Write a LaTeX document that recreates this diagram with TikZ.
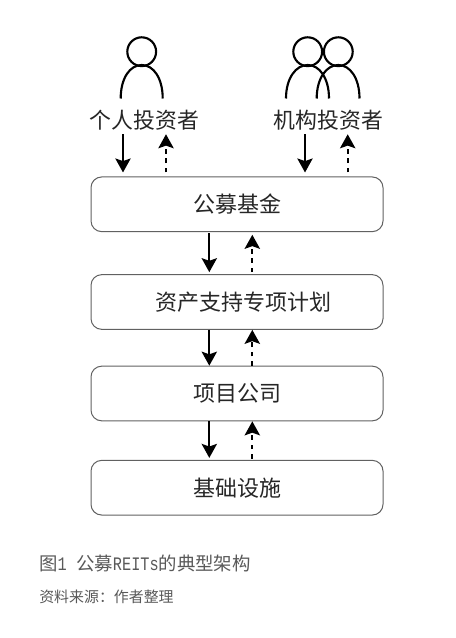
\documentclass[tikz,border=0pt]{standalone}
\usepackage{fontspec}
\setmainfont{Noto Sans CJK SC}
\newfontfamily\capmono[FakeStretch=0.8]{Liberation Mono}
\usetikzlibrary{arrows.meta}
\tikzset{
  x=0.75pt,y=-0.75pt,
  boxnode/.style={draw=black!62,line width=0.75pt,rounded corners=8pt,minimum width=219pt,minimum height=41pt,inner sep=0pt,font=\fontsize{16.5pt}{18pt}\selectfont,text=black!85},
  labnode/.style={inner sep=0pt,minimum height=21pt,font=\fontsize{16.4pt}{18pt}\selectfont,text=black!85},
  solidarrow/.style={line width=1.5pt,-{Stealth[length=10.5pt,width=11.5pt,inset=2pt]}},
  dasharrow/.style={line width=1.5pt,dash pattern=on 3.5pt off 3.5pt,-{Stealth[length=10.5pt,width=11.5pt,inset=2pt]}},
  person/.style={line width=1.6pt,draw=black},
  caphead/.style={inner sep=0pt,anchor=west,text=black!65,font=\fontsize{13.8pt}{15pt}\selectfont},
  capsub/.style={inner sep=0pt,anchor=west,text=black!65,font=\fontsize{11.2pt}{13pt}\selectfont},
}
\newcommand{\capm}[1]{{\capmono\fontsize{14.3pt}{15pt}\selectfont #1}}
\begin{document}
\begin{tikzpicture}
\useasboundingbox (0,0) rectangle (456,638);
\fill[white] (0,0) rectangle (456,638);
% persons
\draw[person] (141.7,51.7) circle[radius=14.4];
\draw[person] (120.7,98.5) .. controls (120.7,78) and (130,65) .. (141.7,65) .. controls (153.4,65) and (162.7,78) .. (162.7,98.5);
\draw[person] (307.7,51.7) circle[radius=14.4];
\draw[person] (286,98.5) .. controls (286,78) and (296,65) .. (307.7,65) .. controls (319.4,65) and (329,78) .. (329,98.5);
\draw[person] (338.3,51.7) circle[radius=14.4];
\draw[person] (316.7,98.5) .. controls (316.7,78) and (326.6,65) .. (338.3,65) .. controls (350,65) and (359.5,78) .. (359.5,98.5);
% labels
\node[labnode] (lab1) at (144.5,120) {个人投资者};
\node[labnode] (lab2) at (328.5,120) {机构投资者};
% boxes
\node[boxnode] (b1) at (237,204.3) {\raisebox{-1.2pt}{公募基金}};
\node[boxnode] (b2) at (237,302) {\hspace*{9pt}\raisebox{-.5pt}{资产支持专项计划}};
\node[boxnode] (b3) at (237,393.5) {\raisebox{.8pt}{项目公司}};
\node[boxnode] (b4) at (237,487.7) {基础设施};
% x positions
\coordinate (s1) at (123,0);
\coordinate (d1) at (166,0);
\coordinate (s2) at (305,0);
\coordinate (d2) at (347.7,0);
\coordinate (sm) at (209.3,0);
\coordinate (dm) at (252.3,0);
% arrows
\draw[solidarrow,shorten >=3pt] (lab1.south -| s1) -- (b1.north -| s1);
\draw[dasharrow,shorten <=3pt] (b1.north -| d1) -- (lab1.south -| d1);
\draw[solidarrow,shorten >=3pt] (lab2.south -| s2) -- (b1.north -| s2);
\draw[dasharrow,shorten <=3pt] (b1.north -| d2) -- (lab2.south -| d2);
\draw[solidarrow,shorten <=1pt,shorten >=1.5pt] (b1.south -| sm) -- (b2.north -| sm);
\draw[dasharrow,shorten <=1.5pt,shorten >=2pt] (b2.north -| dm) -- (b1.south -| dm);
\draw[solidarrow] (b2.south -| sm) -- (b3.north -| sm);
\draw[dasharrow] (b3.north -| dm) -- (b2.south -| dm);
\draw[solidarrow,shorten >=1.5pt] (b3.south -| sm) -- (b4.north -| sm);
\draw[dasharrow,shorten <=1pt] (b4.north -| dm) -- (b3.south -| dm);
% caption
\node[caphead] (cap1) at (39,564) {图\capm{1}\hspace{7pt}公募\capm{REITs}的典型架构};
\node[capsub] (cap2) at (39,597) {资料来源：作者整理};
\end{tikzpicture}
\end{document}
